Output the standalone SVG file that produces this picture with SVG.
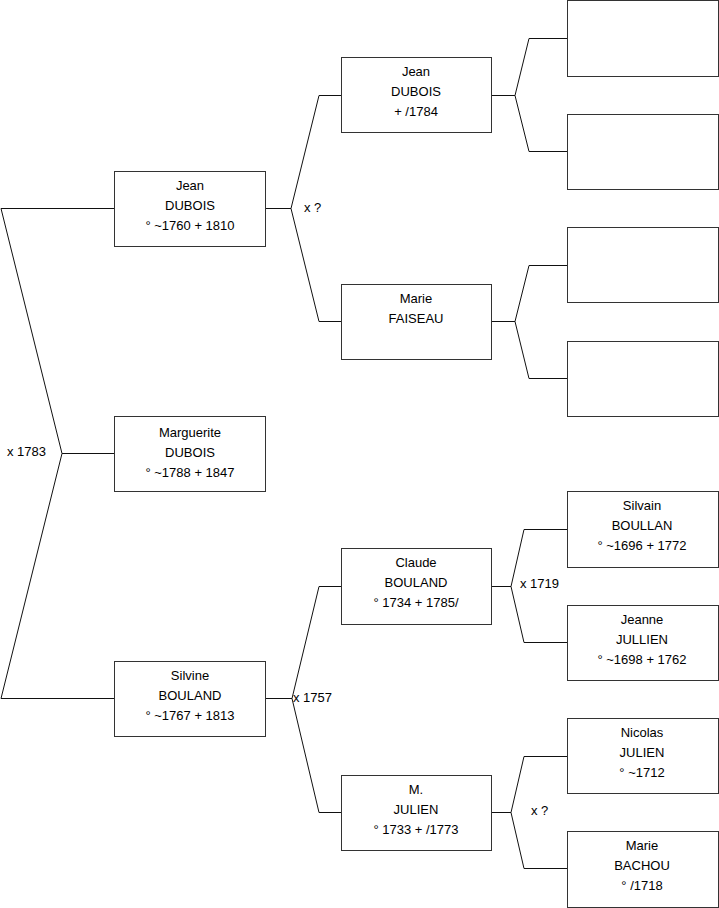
<svg xmlns="http://www.w3.org/2000/svg" width="719" height="908" viewBox="0 0 719 908">
<style>
rect.b{fill:#fff;stroke:#333;stroke-width:1}
text{font-family:"Liberation Sans",Arial,sans-serif;font-size:13px;fill:#000;text-anchor:middle}
text.l{text-anchor:start}
#connectors polyline{fill:none;stroke:#111;stroke-width:1}
</style>
<rect width="719" height="908" fill="#fff"/>
<g id="connectors">
<polyline points="114,208.5 1,208.5 62,453.5 1,698.5 114,698.5"/>
<polyline points="62,453.5 114,453.5"/>
<polyline points="265,208.5 291,208.5"/>
<polyline points="341,95.5 319,95.5 291,208.5 319,321.5 341,321.5"/>
<polyline points="265,698.5 292,698.5"/>
<polyline points="341,586.5 319,586.5 292,698.5 319,812.5 341,812.5"/>
<polyline points="491,95.5 515,95.5"/>
<polyline points="567,38.5 529,38.5 515,95.5 529,151.5 567,151.5"/>
<polyline points="491,321.5 515,321.5"/>
<polyline points="567,265.5 529,265.5 515,321.5 529,378.5 567,378.5"/>
<polyline points="491,586.5 511,586.5"/>
<polyline points="567,529.5 524,529.5 511,586.5 524,642.5 567,642.5"/>
<polyline points="491,812.5 511,812.5"/>
<polyline points="567,756.5 524,756.5 511,812.5 524,868.5 567,868.5"/>
<text class="l" x="7" y="456">x 1783</text>
<text class="l" x="304" y="212">x ?</text>
<text class="l" x="293" y="702">x 1757</text>
<text class="l" x="520" y="588">x 1719</text>
<text class="l" x="531" y="815">x ?</text>
</g>
<g id="n_jean1"><rect class="b" x="114.5" y="171.5" width="151" height="75"/><text x="190" y="190">Jean</text><text x="190" y="210">DUBOIS</text><text x="190" y="230">° ~1760 + 1810</text></g>
<g id="n_marguerite"><rect class="b" x="114.5" y="416.5" width="151" height="75"/><text x="190" y="437">Marguerite</text><text x="190" y="457">DUBOIS</text><text x="190" y="477">° ~1788 + 1847</text></g>
<g id="n_silvine"><rect class="b" x="114.5" y="661.5" width="151" height="75"/><text x="190" y="680">Silvine</text><text x="190" y="700">BOULAND</text><text x="190" y="720">° ~1767 + 1813</text></g>
<g id="n_jean2"><rect class="b" x="341.5" y="57.5" width="150" height="75"/><text x="416" y="76">Jean</text><text x="416" y="96">DUBOIS</text><text x="416" y="116">+ /1784</text></g>
<g id="n_marie1"><rect class="b" x="341.5" y="284.5" width="150" height="75"/><text x="416" y="303">Marie</text><text x="416" y="323">FAISEAU</text></g>
<g id="n_claude"><rect class="b" x="341.5" y="548.5" width="150" height="76"/><text x="416" y="567">Claude</text><text x="416" y="587">BOULAND</text><text x="416" y="607">° 1734 + 1785/</text></g>
<g id="n_mjulien"><rect class="b" x="341.5" y="775.5" width="150" height="75"/><text x="416" y="794">M.</text><text x="416" y="814">JULIEN</text><text x="416" y="834">° 1733 + /1773</text></g>
<g id="n_e1"><rect class="b" x="567.5" y="0.5" width="151" height="76"/></g>
<g id="n_e2"><rect class="b" x="567.5" y="114.5" width="151" height="75"/></g>
<g id="n_e3"><rect class="b" x="567.5" y="227.5" width="151" height="75"/></g>
<g id="n_e4"><rect class="b" x="567.5" y="341.5" width="151" height="75"/></g>
<g id="n_silvain"><rect class="b" x="567.5" y="491.5" width="151" height="76"/><text x="642" y="510">Silvain</text><text x="642" y="530">BOULLAN</text><text x="642" y="550">° ~1696 + 1772</text></g>
<g id="n_jeanne"><rect class="b" x="567.5" y="605.5" width="151" height="75"/><text x="642" y="624">Jeanne</text><text x="642" y="644">JULLIEN</text><text x="642" y="664">° ~1698 + 1762</text></g>
<g id="n_nicolas"><rect class="b" x="567.5" y="718.5" width="151" height="75"/><text x="642" y="737">Nicolas</text><text x="642" y="757">JULIEN</text><text x="642" y="777">° ~1712</text></g>
<g id="n_marie2"><rect class="b" x="567.5" y="831.5" width="151" height="76"/><text x="642" y="850">Marie</text><text x="642" y="870">BACHOU</text><text x="642" y="890">° /1718</text></g>
</svg>
